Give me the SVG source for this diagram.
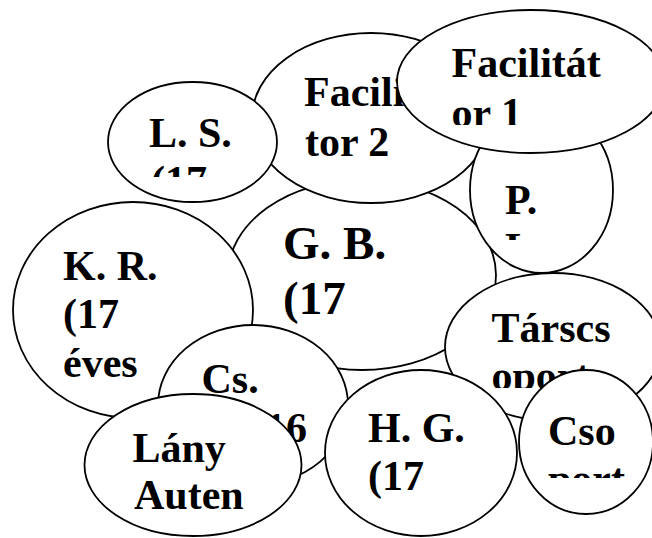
<svg xmlns="http://www.w3.org/2000/svg" width="652" height="538" viewBox="0 0 652 538">
<style>
.n{fill:#fff;stroke:#000;stroke-width:1.8}
.t{font-family:"Liberation Serif","Times New Roman",serif;font-weight:bold;font-size:42px;fill:#000}
.b{font-size:47px}
</style>
<defs>
<clipPath id="cLS"><rect x="100" y="80" width="180" height="97"/></clipPath>
<clipPath id="cF1"><rect x="400" y="20" width="252" height="105"/></clipPath>
<clipPath id="cP"><rect x="470" y="150" width="140" height="90"/></clipPath>
<clipPath id="cT"><rect x="450" y="290" width="202" height="98"/></clipPath>
<clipPath id="cC"><rect x="520" y="400" width="132" height="78"/></clipPath>
</defs>
<rect width="652" height="538" fill="#fff"/>
<g id="connectors"></g>
<g id="gb">
<ellipse class="n" cx="362" cy="275" rx="134" ry="95"/>
<text class="t b" x="283" y="259">G. B.</text>
<text class="t b" x="283" y="314">(17</text>
</g>
<g id="fac2">
<ellipse class="n" cx="371" cy="118" rx="119" ry="85"/>
<text class="t" x="304" y="106">Facili</text>
<text class="t" x="305" y="156">tor 2</text>
</g>
<g id="p">
<ellipse class="n" cx="541.5" cy="190" rx="71.5" ry="83"/>
<g clip-path="url(#cP)">
<text class="t" x="505" y="214">P.</text>
<text class="t" x="505" y="262">L.</text>
</g>
</g>
<g id="ls">
<ellipse class="n" cx="192.5" cy="142" rx="84.5" ry="60"/>
<g clip-path="url(#cLS)">
<text class="t" x="149" y="147">L. S.</text>
<text class="t" x="151" y="195">(17</text>
</g>
</g>
<g id="fac1">
<ellipse class="n" cx="531" cy="81.5" rx="134" ry="71.5"/>
<g clip-path="url(#cF1)">
<text class="t" x="451.5" y="77">Facilitát</text>
<text class="t" x="451.5" y="127">or 1</text>
</g>
</g>
<g id="kr">
<ellipse class="n" cx="133" cy="310" rx="120" ry="108"/>
<text class="t" x="63" y="280">K. R.</text>
<text class="t" x="63" y="328">(17</text>
<text class="t" x="63" y="377">éves</text>
</g>
<g id="tars">
<ellipse class="n" cx="553" cy="347" rx="108" ry="74"/>
<g clip-path="url(#cT)">
<text class="t" x="491.5" y="342">Társcs</text>
<text class="t" x="491.5" y="390">oport</text>
</g>
</g>
<g id="cs">
<ellipse class="n" cx="253" cy="405" rx="95" ry="80"/>
<text class="t" x="201.5" y="393">Cs.</text>
<text class="t" x="265" y="442">16</text>
</g>
<g id="lany">
<ellipse class="n" cx="193" cy="465" rx="108.5" ry="71"/>
<text class="t" x="132.5" y="462">Lány</text>
<text class="t" x="134" y="509">Auten</text>
</g>
<g id="hg">
<ellipse class="n" cx="421" cy="453" rx="96" ry="83"/>
<text class="t" x="368" y="442">H. G.</text>
<text class="t" x="368" y="490">(17</text>
</g>
<g id="cso">
<ellipse class="n" cx="586" cy="442" rx="67" ry="72"/>
<g clip-path="url(#cC)">
<text class="t" x="548" y="445">Cso</text>
<text class="t" x="548" y="493">port</text>
</g>
</g>
</svg>
